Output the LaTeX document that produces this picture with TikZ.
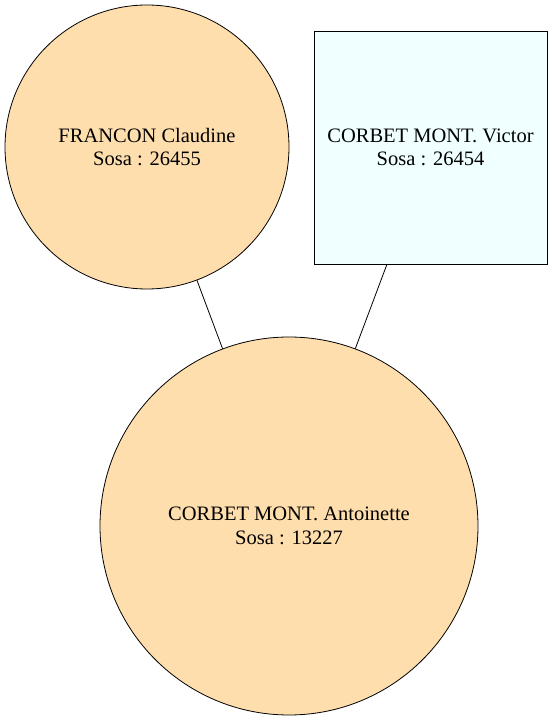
\documentclass[tikz,border=0pt]{standalone}
\usepackage{fontspec}
\newfontfamily\tnr{LiberationSerif-Regular.ttf}
\definecolor{navajo}{RGB}{255,222,173}
\definecolor{azurec}{RGB}{240,255,255}
\begin{document}
\begin{tikzpicture}[x=1pt,y=1pt,
  person/.style={draw=black, line width=0.8pt, align=center, inner sep=0pt,
    font=\tnr\fontsize{20.5}{23.5}\selectfont},
  female/.style={person, circle, fill=navajo},
  male/.style={person, rectangle, fill=azurec},
  link/.style={draw=black, line width=0.8pt}]
\useasboundingbox (0,0) rectangle (552,721);
\node[female, minimum size=284] (claudine) at (147,574) {FRANCON Claudine\\Sosa : 26455};
\node[male, minimum width=233, minimum height=233] (victor) at (430.5,573.5) {CORBET MONT. Victor\\Sosa : 26454};
\node[female, minimum size=378] (antoinette) at (289,195) {CORBET MONT. Antoinette\\Sosa : 13227};
\draw[link] (claudine) -- (antoinette);
\draw[link] (victor) -- (antoinette);
\end{tikzpicture}
\end{document}
